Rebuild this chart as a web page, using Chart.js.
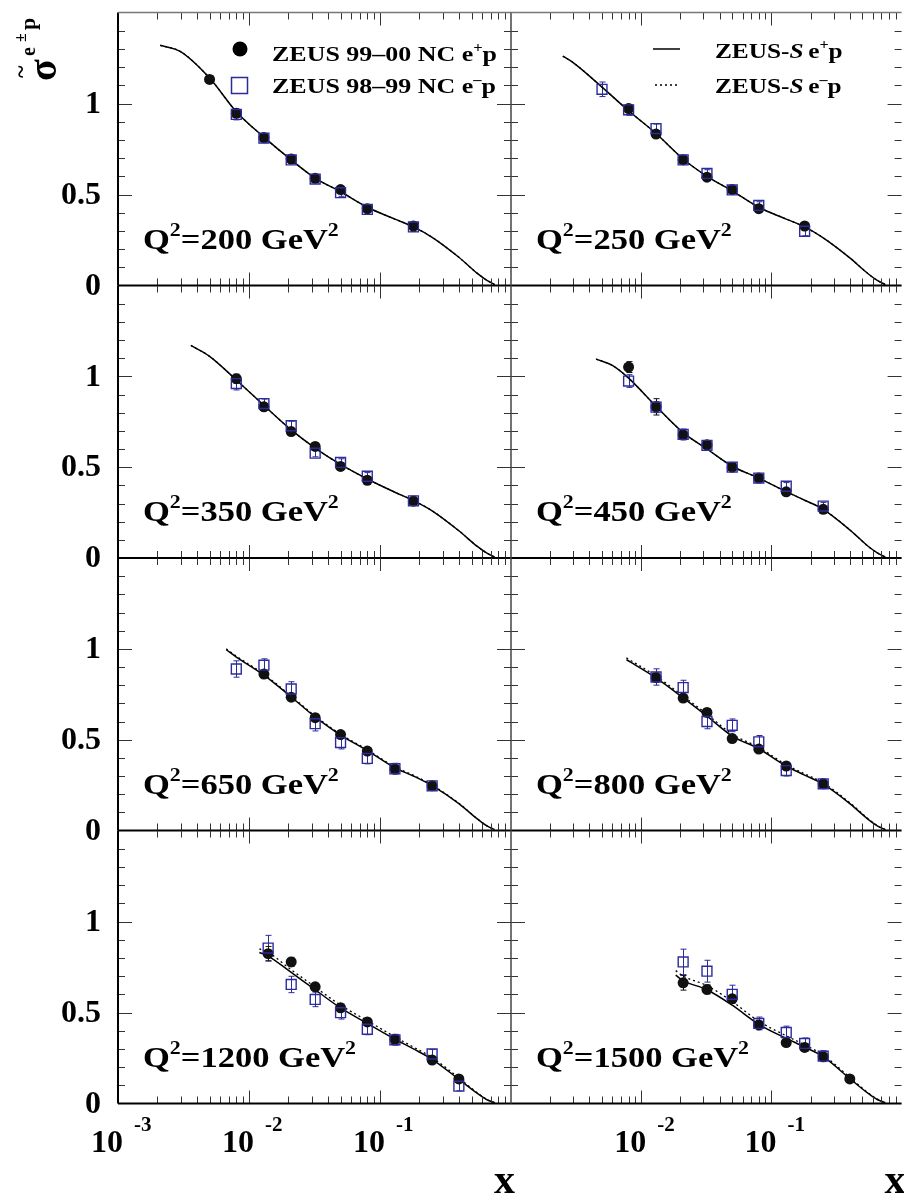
<!DOCTYPE html>
<html>
<head>
<meta charset="utf-8">
<script src="https://cdn.jsdelivr.net/npm/chart.js@4.4.1/dist/chart.umd.min.js"></script>
<style>
  html, body { margin: 0; padding: 0; background: #fff; width: 904px; height: 1195px; overflow: hidden; }
  #wrap { position: relative; width: 904px; height: 1195px; }
  #wrap canvas { position: absolute; left: 0; top: 0; }
</style>
</head>
<body>
<div id="wrap"></div>
<script>
// ZEUS NC reduced cross sections, 8 panels of Q2. Values.
const xBins = [0.005, 0.008, 0.013, 0.014, 0.021, 0.032, 0.05, 0.08, 0.13, 0.18, 0.25, 0.4];
const q2List = [200, 250, 350, 450, 650, 800, 1200, 1500];

// ZEUS 99-00 NC e+p (filled circles), aligned with xBins
const pos200  = [1.132, 0.946, 0.813, null, 0.695, 0.589, 0.527, 0.422, null, 0.327, null, null];
const pos250  = [null, 0.972, 0.832, null, 0.691, 0.595, 0.527, 0.422, null, 0.327, null, null];
const pos350  = [null, 0.987, 0.832, null, 0.696, 0.614, 0.504, 0.428, null, 0.313, null, null];
const pos450  = [null, 1.051, 0.832, null, 0.678, 0.623, 0.500, 0.440, 0.364, null, 0.268, null];
const pos650  = [null, null, 0.861, null, 0.734, 0.621, 0.528, 0.437, 0.339, null, 0.246, null];
const pos800  = [null, null, 0.842, null, 0.729, 0.650, 0.506, 0.448, 0.355, null, 0.257, null];
const pos1200 = [null, null, null, 0.823, 0.778, 0.641, 0.526, 0.448, 0.353, null, 0.239, 0.135];
const pos1500 = [null, null, null, null, 0.663, 0.627, 0.575, 0.432, 0.335, 0.308, 0.257, 0.135];

// ZEUS 98-99 NC e-p (open squares)
const neg200  = [null, 0.940, 0.810, null, 0.690, 0.585, 0.510, 0.418, null, 0.322, null, null];
const neg250  = [1.078, 0.965, 0.862, null, 0.690, 0.616, 0.525, 0.440, null, 0.298, null, null];
const neg350  = [null, 0.960, 0.850, null, 0.728, 0.577, 0.526, 0.450, null, 0.315, null, null];
const neg450  = [null, 0.974, 0.830, null, 0.680, 0.620, 0.500, 0.440, 0.395, null, 0.286, null];
const neg650  = [null, 0.889, 0.910, null, 0.779, 0.588, 0.484, 0.397, 0.340, null, 0.246, null];
const neg800  = [null, null, 0.845, null, 0.787, 0.600, 0.579, 0.488, 0.330, null, 0.257, null];
const neg1200 = [null, null, null, 0.854, 0.654, 0.572, 0.499, 0.408, 0.350, null, 0.272, 0.095];
const neg1500 = [null, null, null, null, 0.778, 0.727, 0.600, 0.440, 0.390, 0.330, 0.260, null];

// error bars
const errPos200  = [0.02, 0.015, 0.012, null, 0.012, 0.012, 0.012, 0.012, null, 0.015, null, null];
const errPos250  = [null, 0.015, 0.015, null, 0.012, 0.012, 0.012, 0.012, null, 0.015, null, null];
const errPos350  = [null, 0.025, 0.015, null, 0.012, 0.012, 0.012, 0.012, null, 0.015, null, null];
const errPos450  = [null, 0.03, 0.045, null, 0.02, 0.015, 0.012, 0.012, 0.012, null, 0.012, null];
const errPos650  = [null, null, 0.02, null, 0.02, 0.02, 0.015, 0.015, 0.015, null, 0.015, null];
const errPos800  = [null, null, 0.025, null, 0.02, 0.02, 0.02, 0.015, 0.015, null, 0.015, null];
const errPos1200 = [null, null, null, 0.04, 0.025, 0.02, 0.02, 0.02, 0.015, null, 0.015, 0.015];
const errPos1500 = [null, null, null, null, 0.04, 0.025, 0.02, 0.02, 0.02, 0.02, 0.015, 0.015];

const errNeg200  = [null, 0.03, 0.025, null, 0.02, 0.02, 0.02, 0.02, null, 0.025, null, null];
const errNeg250  = [0.04, 0.03, 0.025, null, 0.02, 0.02, 0.02, 0.02, null, 0.025, null, null];
const errNeg350  = [null, 0.035, 0.025, null, 0.025, 0.02, 0.02, 0.02, null, 0.025, null, null];
const errNeg450  = [null, 0.035, 0.03, null, 0.03, 0.025, 0.02, 0.02, 0.02, null, 0.02, null];
const errNeg650  = [null, 0.045, 0.035, null, 0.04, 0.04, 0.035, 0.03, 0.03, null, 0.025, null];
const errNeg800  = [null, null, 0.045, null, 0.04, 0.04, 0.035, 0.035, 0.03, null, 0.025, null];
const errNeg1200 = [null, null, null, 0.07, 0.045, 0.04, 0.035, 0.03, 0.03, null, 0.025, 0.025];
const errNeg1500 = [null, null, null, null, 0.07, 0.06, 0.05, 0.035, 0.035, 0.03, 0.03, null];

// ZEUS-S fit curves (x grid, e+p, e-p)
const fitX200 = [0.0021, 0.003, 0.005, 0.008, 0.013, 0.021, 0.032, 0.05, 0.08, 0.13, 0.18, 0.25, 0.4, 0.55, 0.65, 0.75];
const fitPos200 = [1.32, 1.285, 1.14, 0.955, 0.815, 0.69, 0.59, 0.515, 0.43, 0.365, 0.322, 0.265, 0.155, 0.068, 0.03, 0.005];
const fitNeg200 = fitPos200;
const fitX250 = [0.0025, 0.003, 0.005, 0.008, 0.013, 0.021, 0.032, 0.05, 0.08, 0.13, 0.18, 0.25, 0.4, 0.55, 0.65, 0.75];
const fitPos250 = [1.26, 1.225, 1.09, 0.96, 0.835, 0.695, 0.6, 0.52, 0.43, 0.365, 0.322, 0.262, 0.152, 0.066, 0.028, 0.005];
const fitNeg250 = fitPos250;
const fitX350 = [0.0036, 0.005, 0.008, 0.013, 0.021, 0.032, 0.05, 0.08, 0.13, 0.18, 0.25, 0.4, 0.55, 0.65, 0.75];
const fitPos350 = [1.17, 1.11, 0.98, 0.84, 0.705, 0.605, 0.515, 0.435, 0.362, 0.316, 0.26, 0.15, 0.065, 0.028, 0.005];
const fitNeg350 = fitPos350;
const fitX450 = [0.0045, 0.006, 0.008, 0.013, 0.021, 0.032, 0.05, 0.08, 0.13, 0.18, 0.25, 0.4, 0.55, 0.65, 0.75];
const fitPos450 = [1.095, 1.06, 0.99, 0.835, 0.69, 0.6, 0.505, 0.44, 0.365, 0.318, 0.268, 0.155, 0.066, 0.028, 0.005];
const fitNeg450 = fitPos450;
const fitX650 = [0.0067, 0.008, 0.013, 0.021, 0.032, 0.05, 0.08, 0.13, 0.18, 0.25, 0.4, 0.55, 0.65, 0.75];
const fitPos650 = [0.995, 0.955, 0.855, 0.735, 0.625, 0.525, 0.44, 0.345, 0.3, 0.247, 0.148, 0.065, 0.027, 0.005];
const fitNeg650 = [1.0, 0.96, 0.86, 0.74, 0.63, 0.53, 0.445, 0.35, 0.304, 0.25, 0.15, 0.066, 0.027, 0.005];
const fitX800 = [0.0077, 0.013, 0.021, 0.032, 0.05, 0.08, 0.13, 0.18, 0.25, 0.4, 0.55, 0.65, 0.75];
const fitPos800 = [0.94, 0.84, 0.73, 0.63, 0.52, 0.45, 0.355, 0.305, 0.255, 0.148, 0.063, 0.026, 0.005];
const fitNeg800 = [0.95, 0.85, 0.74, 0.64, 0.53, 0.458, 0.362, 0.312, 0.262, 0.153, 0.066, 0.027, 0.005];
const fitX1200 = [0.012, 0.014, 0.021, 0.032, 0.05, 0.08, 0.13, 0.18, 0.25, 0.4, 0.55, 0.65, 0.75];
const fitPos1200 = [0.83, 0.81, 0.72, 0.625, 0.525, 0.44, 0.353, 0.3, 0.243, 0.133, 0.057, 0.022, 0.004];
const fitNeg1200 = [0.85, 0.83, 0.735, 0.64, 0.54, 0.455, 0.366, 0.31, 0.253, 0.14, 0.06, 0.024, 0.004];
const fitX1500 = [0.0184, 0.021, 0.032, 0.05, 0.08, 0.13, 0.18, 0.25, 0.4, 0.55, 0.65, 0.75];
const fitPos1500 = [0.705, 0.675, 0.625, 0.54, 0.435, 0.358, 0.31, 0.257, 0.137, 0.057, 0.022, 0.004];
const fitNeg1500 = [0.73, 0.7, 0.648, 0.56, 0.452, 0.372, 0.322, 0.266, 0.144, 0.06, 0.024, 0.004];

const panels = [
  { pos: pos200,  neg: neg200,  ep: errPos200,  en: errNeg200,  fx: fitX200,  fp: fitPos200,  fn: fitNeg200 },
  { pos: pos250,  neg: neg250,  ep: errPos250,  en: errNeg250,  fx: fitX250,  fp: fitPos250,  fn: fitNeg250 },
  { pos: pos350,  neg: neg350,  ep: errPos350,  en: errNeg350,  fx: fitX350,  fp: fitPos350,  fn: fitNeg350 },
  { pos: pos450,  neg: neg450,  ep: errPos450,  en: errNeg450,  fx: fitX450,  fp: fitPos450,  fn: fitNeg450 },
  { pos: pos650,  neg: neg650,  ep: errPos650,  en: errNeg650,  fx: fitX650,  fp: fitPos650,  fn: fitNeg650 },
  { pos: pos800,  neg: neg800,  ep: errPos800,  en: errNeg800,  fx: fitX800,  fp: fitPos800,  fn: fitNeg800 },
  { pos: pos1200, neg: neg1200, ep: errPos1200, en: errNeg1200, fx: fitX1200, fp: fitPos1200, fn: fitNeg1200 },
  { pos: pos1500, neg: neg1500, ep: errPos1500, en: errNeg1500, fx: fitX1500, fp: fitPos1500, fn: fitNeg1500 }
];

// page geometry of the 2x4 grid
const W = 910, H = 1195;
const colX = [[118, 511], [511, 905]];
const rowY = [[12.5, 285.5], [285.5, 558], [558, 830.5], [830.5, 1103.5]];
const SERIF = "'Liberation Serif', 'DejaVu Serif', serif";
const NAVY = '#2b2b9c';

const pts = (xs, ys) => xs.map((x, i) => (ys[i] == null ? null : { x, y: ys[i] })).filter(Boolean);

// text made of pieces (superscripts, italics), optionally stretched horizontally
function rich(ctx, x, y, parts, sx = 1) {
  ctx.save();
  ctx.textAlign = 'left';
  ctx.textBaseline = 'alphabetic';
  ctx.translate(x, y);
  ctx.scale(sx, 1);
  let cx = 0;
  parts.forEach(p => {
    ctx.font = (p.it ? 'italic ' : '') + 'bold ' + p.s + 'px ' + SERIF;
    ctx.fillText(p.t, cx, -(p.dy || 0));
    cx += ctx.measureText(p.t).width + (p.gap || 0);
  });
  ctx.restore();
}

function seg(ctx, x1, y1, x2, y2) { ctx.beginPath(); ctx.moveTo(x1, y1); ctx.lineTo(x2, y2); ctx.stroke(); }

const panelPlugin = {
  id: 'zeusPanel',
  beforeDatasetsDraw(chart, args, o) {
    const p = panels[o.idx];
    const { ctx, scales: { x, y } } = chart;
    ctx.save();
    ctx.lineWidth = 1;
    [[p.neg, p.en, NAVY], [p.pos, p.ep, '#111']].forEach(([vals, errs, col]) => {
      ctx.strokeStyle = col;
      xBins.forEach((xb, i) => {
        if (vals[i] == null || !errs[i]) return;
        const px = Math.round(x.getPixelForValue(xb)) + 0.5;
        const lo = y.getPixelForValue(vals[i] - errs[i]);
        const hi = y.getPixelForValue(vals[i] + errs[i]);
        seg(ctx, px, lo, px, hi);
        seg(ctx, px - 3, lo, px + 3, lo);
        seg(ctx, px - 3, hi, px + 3, hi);
      });
    });
    ctx.restore();
  },
  afterDatasetsDraw(chart, args, o) {
    const { ctx, chartArea: a, scales: { x, y } } = chart;
    ctx.save();
    // inward ticks, all four sides
    ctx.strokeStyle = '#333';
    ctx.lineWidth = 1;
    for (let i = 1; i < 15; i++) {
      const py = Math.round(y.getPixelForValue(i / 10)) + 0.5;
      const len = i % 5 === 0 ? 14 : 7;
      seg(ctx, a.left, py, a.left + len, py);
      seg(ctx, a.right - len, py, a.right, py);
    }
    for (let d = -3; d <= -1; d++) {
      for (let k = 1; k <= 9; k++) {
        const v = k * Math.pow(10, d);
        if (v <= 0.001) continue;
        const px = Math.round(x.getPixelForValue(v)) + 0.5;
        const len = k === 1 ? 13 : 7;
        seg(ctx, px, a.bottom, px, a.bottom - len);
        seg(ctx, px, a.top, px, a.top + len);
      }
    }
    // frame
    ctx.strokeStyle = '#000';
    ctx.lineWidth = 2;
    seg(ctx, a.left, a.bottom, a.right, a.bottom);
    if (o.col === 0) seg(ctx, a.left, a.top, a.left, a.bottom);
    else { ctx.lineWidth = 1.5; ctx.strokeStyle = '#444'; seg(ctx, a.left, a.top, a.left, a.bottom); }
    if (o.row === 0) { ctx.lineWidth = 1.3; ctx.strokeStyle = '#777'; seg(ctx, a.left, a.top, a.right, a.top); }
    ctx.restore();
  },
  afterDraw(chart, args, o) {
    const { ctx, chartArea: a, scales: { x, y } } = chart;
    ctx.save();
    ctx.fillStyle = '#000';
    // Q2 label
    rich(ctx, a.left + 25, a.bottom - 37, [
      { t: 'Q', s: 30 }, { t: '2', s: 19, dy: 13 }, { t: '=' + q2List[o.idx] + ' GeV', s: 30 }, { t: '2', s: 19, dy: 13 }
    ], 1.15);
    // y tick labels on the left column
    if (o.col === 0) {
      ctx.save();
      ctx.font = 'bold 32px ' + SERIF;
      ctx.textAlign = 'right';
      ctx.textBaseline = 'middle';
      [[0, '0'], [0.5, '0.5'], [1, '1']].forEach(([v, t]) => ctx.fillText(t, 101, y.getPixelForValue(v) + 1));
      ctx.restore();
    }
    // x tick labels and title on the bottom row
    if (o.row === 3) {
      const decs = o.col === 0 ? [-3, -2, -1] : [-2, -1];
      ctx.save();
      decs.forEach(d => {
        const px = x.getPixelForValue(Math.pow(10, d));
        ctx.textAlign = 'right';
        ctx.font = 'bold 32px ' + SERIF;
        ctx.fillText('10', px + 5, 1152);
        ctx.textAlign = 'left';
        ctx.font = 'bold 21px ' + SERIF;
        ctx.fillText(String(d), px + 16, 1131);
      });
      ctx.textAlign = 'right';
      ctx.font = 'bold 42px ' + SERIF;
      ctx.fillText('x', a.right + 4, 1193);
      ctx.restore();
    }
    if (o.idx === 0) {
      // y title, rotated
      ctx.save();
      ctx.textAlign = 'left';
      ctx.translate(56, 82);
      ctx.rotate(-Math.PI / 2);
      ctx.font = 'bold 40px ' + SERIF;
      ctx.fillText('\u03c3', 1, 0);
      ctx.font = 'bold 24px ' + SERIF;
      ctx.fillText('~', 4, -28);
      ctx.font = 'bold 20px ' + SERIF;
      ctx.fillText('e', 26, -21);
      ctx.font = 'bold 16px ' + SERIF;
      ctx.fillText('\u00b1', 40, -30);
      ctx.font = 'bold 22px ' + SERIF;
      ctx.fillText('p', 52, -21);
      ctx.restore();
      // data legend
      ctx.beginPath();
      ctx.arc(240, 49, 7.5, 0, Math.PI * 2);
      ctx.fill();
      ctx.strokeStyle = NAVY;
      ctx.lineWidth = 1.5;
      ctx.strokeRect(231.5, 77.5, 16, 16);
      rich(ctx, 272, 61, [{ t: 'ZEUS 99\u201300 NC e', s: 22 }, { t: '+', s: 14, dy: 9 }, { t: 'p', s: 22 }], 1.18);
      rich(ctx, 272, 93, [{ t: 'ZEUS 98\u201399 NC e', s: 22 }, { t: '\u2013', s: 14, dy: 9 }, { t: 'p', s: 22 }], 1.18);
    }
    if (o.idx === 1) {
      ctx.strokeStyle = '#000';
      ctx.lineWidth = 1.5;
      seg(ctx, 653, 49, 680, 49);
      ctx.setLineDash([2, 3]);
      seg(ctx, 655, 85, 680, 85);
      ctx.setLineDash([]);
      rich(ctx, 715, 58, [{ t: 'ZEUS-', s: 22 }, { t: 'S', s: 22, it: true, gap: 4 }, { t: 'e', s: 22 }, { t: '+', s: 14, dy: 9 }, { t: 'p', s: 22 }], 1.15);
      rich(ctx, 715, 93, [{ t: 'ZEUS-', s: 22 }, { t: 'S', s: 22, it: true, gap: 4 }, { t: 'e', s: 22 }, { t: '\u2013', s: 14, dy: 9 }, { t: 'p', s: 22 }], 1.15);
    }
    ctx.restore();
  }
};

const wrap = document.getElementById('wrap');

panels.forEach((p, idx) => {
  const row = Math.floor(idx / 2), col = idx % 2;
  const cv = document.createElement('canvas');
  cv.width = W; cv.height = H;
  cv.style.width = W + 'px'; cv.style.height = H + 'px';
  wrap.appendChild(cv);

  new Chart(cv, {
    type: 'line',
    data: {
      datasets: [
        { label: 'ZEUS 98-99 NC e-p', data: pts(xBins, p.neg), showLine: false, pointStyle: 'rect', pointRadius: 7,
          borderColor: NAVY, borderWidth: 1.4, backgroundColor: 'rgba(0,0,0,0)' },
        { label: 'ZEUS 99-00 NC e+p', data: pts(xBins, p.pos), showLine: false, pointStyle: 'circle', pointRadius: 5.5,
          borderColor: '#111', borderWidth: 0, backgroundColor: '#111' },
        { label: 'ZEUS-S e-p', data: pts(p.fx, p.fn), borderColor: '#000', borderWidth: 1.3, borderDash: [2, 3],
          pointRadius: 0, cubicInterpolationMode: 'monotone', fill: false },
        { label: 'ZEUS-S e+p', data: pts(p.fx, p.fp), borderColor: '#000', borderWidth: 1.5,
          pointRadius: 0, cubicInterpolationMode: 'monotone', fill: false }
      ]
    },
    options: {
      responsive: false,
      devicePixelRatio: 1,
      animation: false,
      events: [],
      layout: { padding: { left: colX[col][0], right: W - colX[col][1], top: rowY[row][0], bottom: H - rowY[row][1] } },
      scales: {
        x: { type: 'logarithmic', min: 0.001, max: 1, display: false },
        y: { type: 'linear', min: 0, max: 1.5, display: false }
      },
      plugins: {
        legend: { display: false },
        tooltip: { enabled: false },
        zeusPanel: { idx, row, col }
      }
    },
    plugins: [panelPlugin]
  });
});
</script>
</body>
</html>
